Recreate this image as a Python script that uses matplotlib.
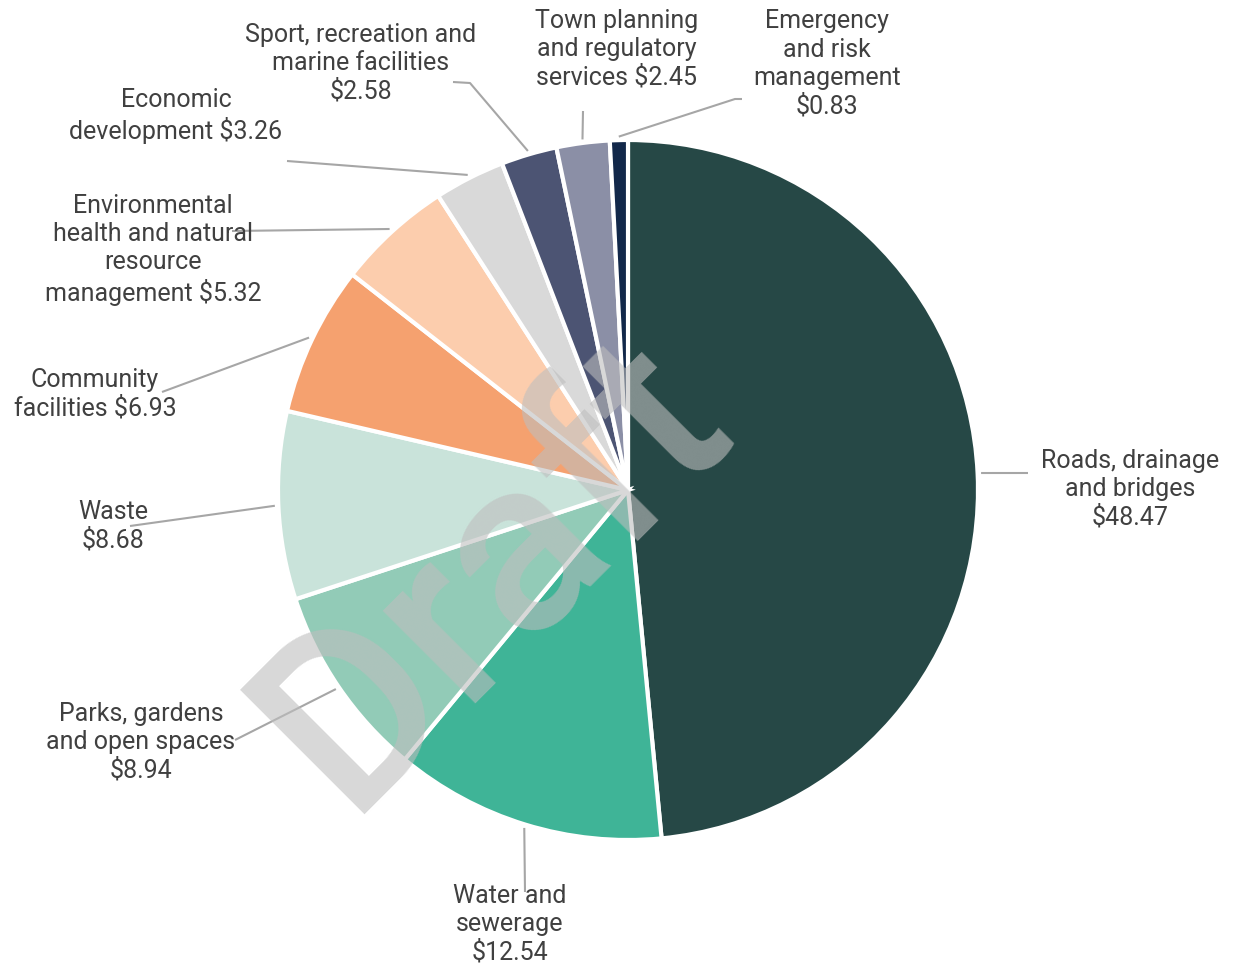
import matplotlib
matplotlib.use("Agg")
import matplotlib.pyplot as plt
import numpy as np

# ---- data ----
categories = [
    "Roads, drainage\nand bridges",
    "Water and\nsewerage",
    "Parks, gardens\nand open spaces",
    "Waste",
    "Community\nfacilities",
    "Environmental\nhealth and natural\nresource\nmanagement",
    "Economic\ndevelopment",
    "Sport, recreation and\nmarine facilities",
    "Town planning\nand regulatory\nservices",
    "Emergency\nand risk\nmanagement",
]
values = [48.47, 12.54, 8.94, 8.68, 6.93, 5.32, 3.26, 2.58, 2.45, 0.83]
value_labels = ["$48.47", "$12.54", "$8.94", "$8.68", "$6.93", "$5.32", "$3.26", "$2.58", "$2.45", "$0.83"]
# how value is joined to the name (newline or space)
joiners = ["\n", "\n", "\n", "\n", " ", " ", " ", "\n", " ", "\n"]
colors = ["#264846", "#3fb497", "#92cbb7", "#c9e3da", "#f5a16f",
          "#fccdad", "#d9d9d9", "#4c5473", "#8b8fa6", "#12284a"]

# ---- layout (pixel coords, y down) ----
W, H = 1237, 968
CX, CY, R = 628, 490, 350
label_pos = [(1130, 489), (510, 924), (141, 742), (113, 526), (95, 394),
             (153, 250), (176, 116), (361, 63), (617, 49), (827, 64)]
leader_pts = [
    [(1028, 473)],
    [(525, 892)],
    [(235, 740)],
    [(130, 526)],
    [(162, 392)],
    [(232, 231)],
    [(287, 161)],
    [(470, 83), (453, 82)],
    [(583, 111)],
    [(735, 99), (742, 99)],
]

def Y(py):
    return H - py

fig = plt.figure(figsize=(W / 100, H / 100), dpi=100)
ax = fig.add_axes([0, 0, 1, 1])

wedges, _ = ax.pie(values, colors=colors, startangle=90, counterclock=False,
                   center=(CX, Y(CY)), radius=R,
                   wedgeprops=dict(edgecolor="white", linewidth=3.0))
ax.set_xlim(0, W)
ax.set_ylim(0, H)
ax.set_aspect("equal")
ax.axis("off")

txt_color = "#404040"
for i, w in enumerate(wedges):
    mid = np.deg2rad((w.theta1 + w.theta2) / 2)
    sx = CX + R * 1.01 * np.cos(mid)
    sy = Y(CY) + R * 1.01 * np.sin(mid)
    xs = [sx] + [p[0] for p in leader_pts[i]]
    ys = [sy] + [Y(p[1]) for p in leader_pts[i]]
    ax.plot(xs, ys, color="#a6a6a6", lw=1.5, zorder=3, solid_capstyle="butt")
    lx, ly = label_pos[i]
    ax.text(lx, Y(ly), categories[i] + joiners[i] + value_labels[i],
            ha="center", va="center", multialignment="center",
            fontsize=18, family="Roboto", color=txt_color,
            linespacing=1.22, zorder=4)

# watermark
ax.text(493, Y(573), "Draft", rotation=45, rotation_mode="anchor",
        ha="center", va="center", fontsize=177, family="Roboto",
        fontweight="medium", color="#bebebe", alpha=0.6, zorder=5)

fig.savefig("out.png", dpi=100)
